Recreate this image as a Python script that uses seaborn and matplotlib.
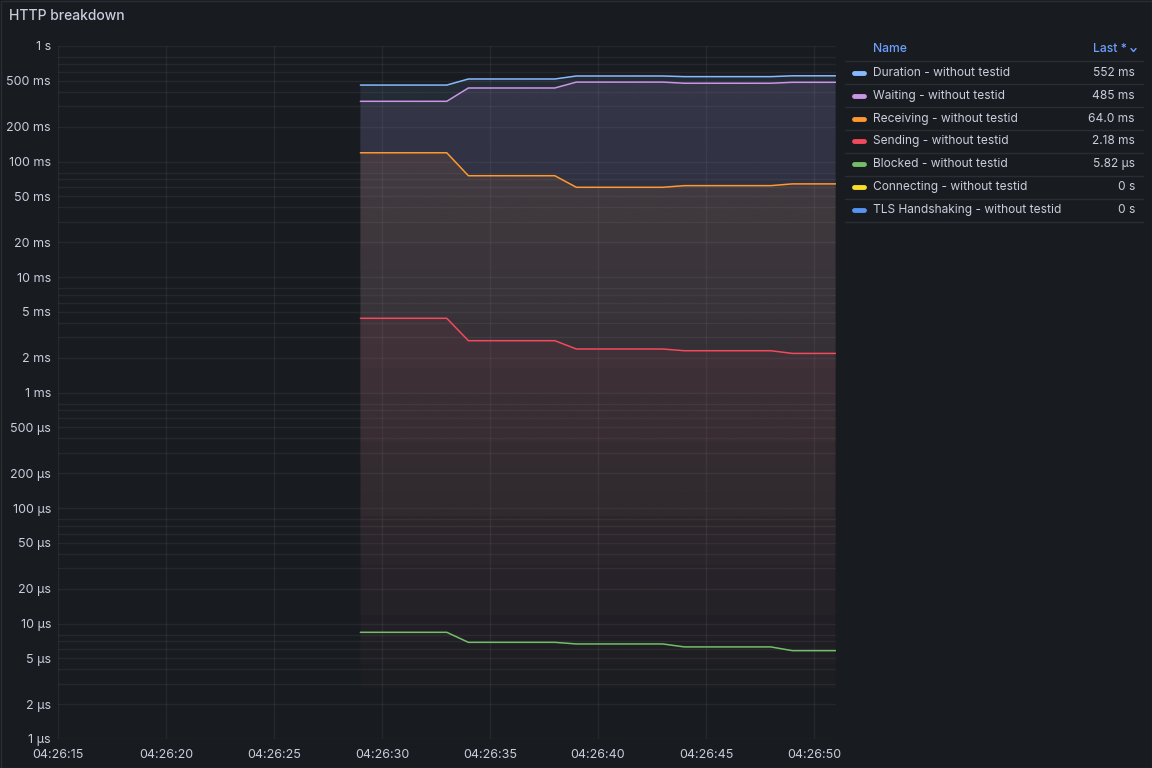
import numpy as np
import pandas as pd
import matplotlib
matplotlib.use("Agg")
import matplotlib.pyplot as plt
import seaborn as sns
from matplotlib.colors import to_rgb
from matplotlib.lines import Line2D
from matplotlib.patches import Rectangle
from matplotlib.ticker import FixedLocator, LogLocator, NullFormatter

# time in seconds after 04:26:00
seconds = [29, 30, 31, 32, 33, 34, 35, 36, 37, 38, 39, 40, 41, 42, 43,
           44, 45, 46, 47, 48, 49, 50, 51]

duration_ms = [459, 459, 459, 459, 459, 518, 518, 518, 518, 518, 550, 550, 550, 550, 550,
               543, 543, 543, 543, 543, 552, 552, 552]
waiting_ms = [332, 332, 332, 332, 332, 433, 433, 433, 433, 433, 487, 487, 487, 487, 487,
              476, 476, 476, 476, 476, 485, 485, 485]
receiving_ms = [119, 119, 119, 119, 119, 75.3, 75.3, 75.3, 75.3, 75.3, 59.8, 59.8, 59.8, 59.8, 59.8,
                61.8, 61.8, 61.8, 61.8, 61.8, 64.0, 64.0, 64.0]
sending_ms = [4.39, 4.39, 4.39, 4.39, 4.39, 2.81, 2.81, 2.81, 2.81, 2.81, 2.38, 2.38, 2.38, 2.38, 2.38,
              2.30, 2.30, 2.30, 2.30, 2.30, 2.18, 2.18, 2.18]
blocked_us = [8.39, 8.39, 8.39, 8.39, 8.39, 6.87, 6.87, 6.87, 6.87, 6.87, 6.65, 6.65, 6.65, 6.65, 6.65,
              6.27, 6.27, 6.27, 6.27, 6.27, 5.82, 5.82, 5.82]

series_names = ["Duration - without testid", "Waiting - without testid",
                "Receiving - without testid", "Sending - without testid",
                "Blocked - without testid", "Connecting - without testid",
                "TLS Handshaking - without testid"]
series_colors = ["#8ab8ff", "#ca95e5", "#ff9830", "#f2495c", "#73bf69", "#fade2a", "#5794f2"]
last_values = ["552 ms", "485 ms", "64.0 ms", "2.18 ms", "5.82 µs", "0 s", "0 s"]

ytick_values = [1e-6, 2e-6, 5e-6, 1e-5, 2e-5, 5e-5, 1e-4, 2e-4, 5e-4,
                1e-3, 2e-3, 5e-3, 1e-2, 2e-2, 5e-2, 0.1, 0.2, 0.5, 1]
ytick_labels = ["1 µs", "2 µs", "5 µs", "10 µs", "20 µs", "50 µs", "100 µs", "200 µs", "500 µs",
                "1 ms", "2 ms", "5 ms", "10 ms", "20 ms", "50 ms", "100 ms", "200 ms", "500 ms", "1 s"]
xtick_values = [15, 20, 25, 30, 35, 40, 45, 50]
xtick_labels = ["04:26:15", "04:26:20", "04:26:25", "04:26:30", "04:26:35",
                "04:26:40", "04:26:45", "04:26:50"]

BG = "#181b1f"
TEXT = "#ccccdc"
W, H = 1152, 768

sns.set_theme(style="dark")
plt.rcParams["font.family"] = ["Inter", "DejaVu Sans"]

# long table, seconds as value unit (zero series are invisible on a log axis)
values_s = [
    [v / 1000 for v in duration_ms],
    [v / 1000 for v in waiting_ms],
    [v / 1000 for v in receiving_ms],
    [v / 1000 for v in sending_ms],
    [v / 1e6 for v in blocked_us],
]
rows = []
for name, vals in zip(series_names[:5], values_s):
    for t, v in zip(seconds, vals):
        rows.append({"t": t, "value": v, "series": name})
df = pd.DataFrame(rows)

fig = plt.figure(figsize=(W / 100, H / 100), dpi=100, facecolor=BG)


def px(x, y):
    return x / W, 1 - y / H


ax_l, ax_r, ax_t, ax_b = 58, 836, 46, 739
ax = fig.add_axes([ax_l / W, 1 - ax_b / H, (ax_r - ax_l) / W, (ax_b - ax_t) / H])
ax.set_facecolor(BG)
ax.set_yscale("log")
ax.set_xlim(15, 51.02)
ax.set_ylim(1e-6, 1)
ax.set_autoscale_on(False)

# gradient fills under each series
for name, vals, color in zip(series_names[:5], values_s, series_colors[:5]):
    poly = ax.fill_between(seconds, vals, 1e-6, facecolor="none", edgecolor="none")
    grad = np.zeros((256, 1, 4))
    grad[:, 0, :3] = to_rgb(color)
    grad[:, 0, 3] = np.linspace(0.11, 0.0, 256)
    im = ax.imshow(grad, aspect="auto", extent=[0, 1, 0, 1], transform=ax.transAxes,
                   origin="upper", zorder=1, interpolation="bilinear")
    im.set_clip_path(poly.get_paths()[0], transform=poly.get_transform())

sns.lineplot(data=df, x="t", y="value", hue="series", hue_order=series_names[:5],
             palette=series_colors[:5], estimator=None, legend=False, linewidth=1.1,
             ax=ax, zorder=3)
ax.set_xlim(15, 51.02)
ax.set_ylim(1e-6, 1)

ax.yaxis.set_major_locator(FixedLocator(ytick_values))
ax.set_yticklabels(ytick_labels)
ax.yaxis.set_minor_locator(LogLocator(base=10, subs=(3, 4, 6, 7, 8), numticks=20))
ax.yaxis.set_minor_formatter(NullFormatter())
ax.set_xticks(xtick_values)
ax.set_xticklabels(xtick_labels)
ax.tick_params(axis="both", which="both", length=0, colors=TEXT, labelsize=9)
ax.tick_params(axis="y", pad=5)
ax.tick_params(axis="x", pad=7)
ax.grid(True, which="both", axis="y", color=TEXT, alpha=0.07, linewidth=1)
ax.grid(True, which="major", axis="x", color=TEXT, alpha=0.07, linewidth=1)
ax.set_xlabel("")
ax.set_ylabel("")
for sp in ax.spines.values():
    sp.set_visible(False)

# panel title and border
fig.text(*px(9, 16), "HTTP breakdown", color=TEXT, fontsize=10, va="center", ha="left",
         fontweight="medium")
fig.patches.append(Rectangle((0.5 / W, 0.5 / H), 1 - 1 / W, 1 - 1 / H, transform=fig.transFigure,
                             facecolor="none", edgecolor="#2a2d33", linewidth=1))

# legend table
blue = "#6e9fff"
fig.text(*px(873, 49), "Name", color=blue, fontsize=8.7, va="center", ha="left", fontweight="medium")
fig.text(*px(1127, 49), "Last *", color=blue, fontsize=8.7, va="center", ha="right", fontweight="medium")
cx, cy = px(1133.5, 50)
fig.add_artist(Line2D([cx - 2.5 / W, cx, cx + 2.5 / W], [cy + 1.5 / H, cy - 1.5 / H, cy + 1.5 / H],
                      color=blue, linewidth=1, transform=fig.transFigure))

row_y = [73, 96, 119, 141, 164, 187, 210]
for yy in [61, 84, 107, 130, 153, 176, 199, 222]:
    x0, y0 = px(845, yy)
    x1, _ = px(1143, yy)
    fig.add_artist(Line2D([x0, x1], [y0, y0], color="#2a2d33", linewidth=1, transform=fig.transFigure))
for name, color, last, yy in zip(series_names, series_colors, last_values, row_y):
    sx0, sy = px(854, yy)
    sx1, _ = px(864, yy)
    fig.add_artist(Line2D([sx0, sx1], [sy, sy], color=color, linewidth=3.5,
                          solid_capstyle="round", transform=fig.transFigure))
    fig.text(*px(873, yy), name, color=TEXT, fontsize=8.6, va="center", ha="left")
    fig.text(*px(1135, yy), last, color=TEXT, fontsize=8.6, va="center", ha="right")

fig.savefig("out.png", dpi=100, facecolor=BG)
